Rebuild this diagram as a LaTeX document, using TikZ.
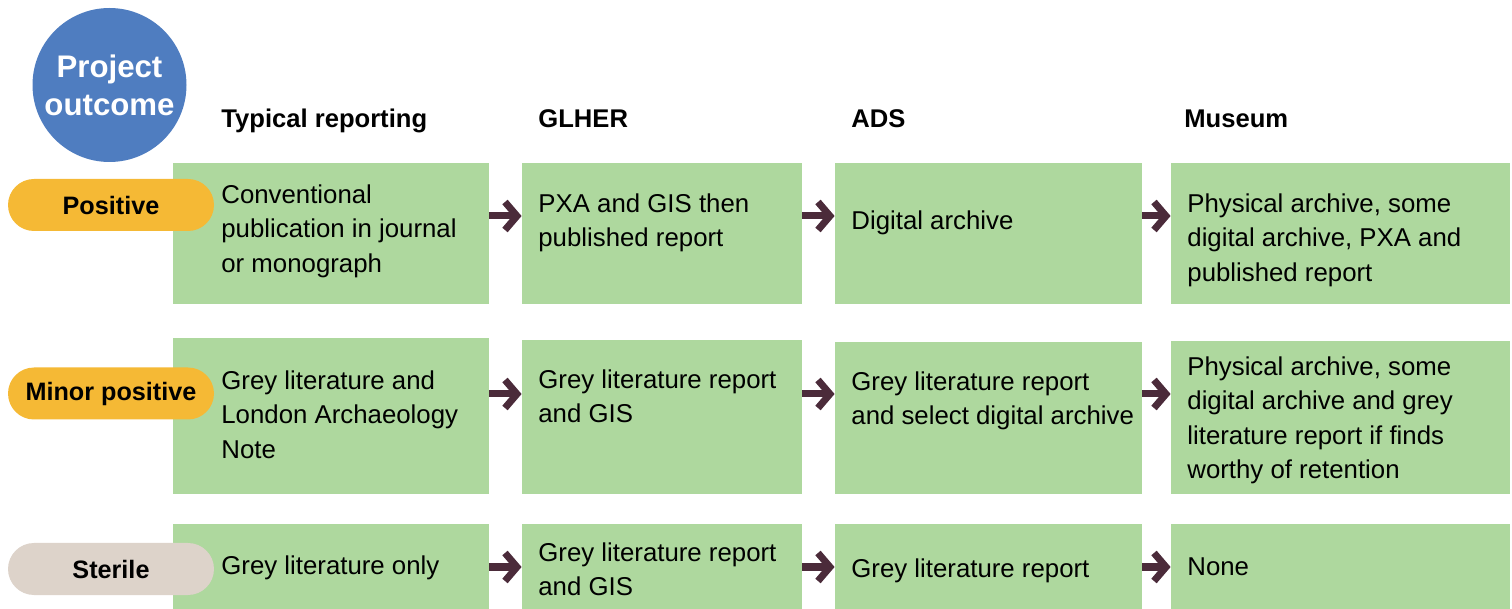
\documentclass[tikz,border=0pt]{standalone}
\usepackage{fontspec}
\setmainfont{Liberation Sans}
\usetikzlibrary{arrows.meta,fit}
\definecolor{boxgreen}{RGB}{174,216,158}
\definecolor{outcomeblue}{RGB}{79,125,192}
\definecolor{posorange}{RGB}{245,185,53}
\definecolor{sterilegrey}{RGB}{221,211,202}
\definecolor{arrowplum}{RGB}{75,43,58}
\begin{document}
\begin{tikzpicture}[x=0.5pt,y=-0.5pt,
  box/.style={fill=boxgreen, inner sep=0pt},
  pill/.style={rounded corners=13pt, inner sep=0pt, minimum width=103pt, minimum height=26pt,
    font=\bfseries\fontsize{12.6pt}{15pt}\selectfont},
  txt/.style={anchor=north west, inner sep=0pt, align=left, font=\fontsize{12.9pt}{17.25pt}\selectfont},
  hd/.style={anchor=north west, inner sep=0pt, font=\bfseries\fontsize{12.8pt}{15pt}\selectfont},
  arr/.style={draw=arrowplum, line width=3.5pt, -{Straight Barb[length=6pt,width=14pt]}}]

\useasboundingbox (0,0) rectangle (1512,609);

% Row levels for the arrows
\coordinate (r1) at (0,216);
\coordinate (r2) at (0,394);
\coordinate (r3) at (0,567);

% Project outcome circle
\node[circle, fill=outcomeblue, minimum size=77pt, inner sep=0pt, text=white, align=center,
  font=\bfseries\fontsize{15.6pt}{19pt}\selectfont] (outcome) at (109.5,85) {Project\\outcome};

% Column headings
\node[hd] (h1) at (221,109) {Typical reporting};
\node[hd] (h2) at (538,109) {GLHER};
\node[hd] (h3) at (851,109) {ADS};
\node[hd] (h4) at (1184,109) {Museum};

% Green boxes, row 1
\node[box, fit={(173,163) (489,304)}] (b11) {};
\node[box, fit={(522,163) (802,304)}] (b12) {};
\node[box, fit={(835,163) (1142,304)}] (b13) {};
\node[box, fit={(1171,163) (1510,304)}] (b14) {};
% row 2
\node[box, fit={(173,338) (489,494)}] (b21) {};
\node[box, fit={(522,340) (802,494)}] (b22) {};
\node[box, fit={(835,342) (1142,494)}] (b23) {};
\node[box, fit={(1171,341) (1510,494)}] (b24) {};
% row 3
\node[box, fit={(173,524) (489,609)}] (b31) {};
\node[box, fit={(522,524) (802,609)}] (b32) {};
\node[box, fit={(835,524) (1142,609)}] (b33) {};
\node[box, fit={(1171,524) (1510,609)}] (b34) {};

% Outcome pills
\node[pill, fill=posorange] (p1) at (111,205) {Positive};
\node[pill, fill=posorange] (p2) at (111,393.5) {Minor positive};
\node[pill, fill=sterilegrey] (p3) at (111,569) {Sterile};

% Box texts
\node[txt] (t11) at (221,184) {Conventional\\publication in journal\\or monograph};
\node[txt] (t12) at (538,193) {PXA and GIS then\\published report};
\node[txt] (t13) at (851,210) {Digital archive};
\node[txt] (t14) at (1187,193) {Physical archive, some\\digital archive, PXA and\\published report};

\node[txt] (t21) at (221,370) {Grey literature and\\London Archaeology\\Note};
\node[txt] (t22) at (538,369) {Grey literature report\\and GIS};
\node[txt] (t23) at (851,371) {Grey literature report\\and select digital archive};
\node[txt] (t24) at (1187,356) {Physical archive, some\\digital archive and grey\\literature report if finds\\worthy of retention};

\node[txt] (t31) at (221,555) {Grey literature only};
\node[txt] (t32) at (538,542) {Grey literature report\\and GIS};
\node[txt] (t33) at (851,558) {Grey literature report};
\node[txt] (t34) at (1187,557) {None};

% Arrows between the columns
\foreach \r in {1,2,3} {
  \foreach \a/\b in {1/2,2/3,3/4} {
    \draw[arr] (b\r\a.east |- r\r) -- (b\r\b.west |- r\r);
  }
}

\end{tikzpicture}
\end{document}
